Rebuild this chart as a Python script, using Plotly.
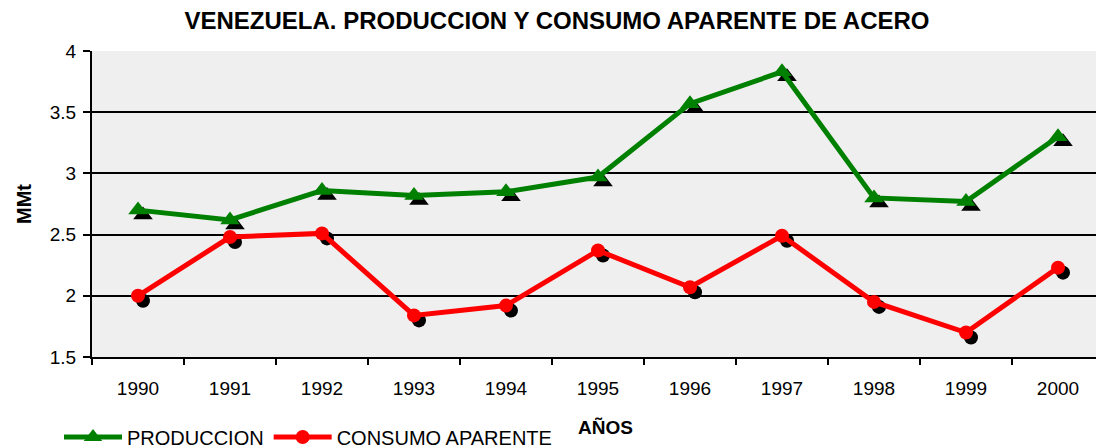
import plotly.graph_objects as go

YEARS = ["1990", "1991", "1992", "1993", "1994", "1995", "1996", "1997", "1998", "1999", "2000"]
PRODUCCION = [2.70, 2.62, 2.86, 2.82, 2.85, 2.97, 3.57, 3.83, 2.80, 2.77, 3.30]
CONSUMO = [2.00, 2.48, 2.51, 1.84, 1.92, 2.37, 2.07, 2.49, 1.95, 1.70, 2.23]

Y_RANGE = [1.5, 4.0]
Y_TICKS = [1.5, 2, 2.5, 3, 3.5, 4]

COLOR_PROD = "#008000"
COLOR_CONS = "#ff0000"
COLOR_BG = "#efefef"
FONT = "Liberation Sans, Arial, sans-serif"

# la pagina html tiene 8px de margen en el body
PAGE = 8
W, H = 1104 - PAGE, 448 - PAGE
M = dict(l=92 - PAGE, r=0, t=51 - PAGE, b=91)
PLOT_W = W - M["l"] - M["r"]
PLOT_H = H - M["t"] - M["b"]

# desplazamiento de la sombra (px)
SHADOW_DX, SHADOW_DY = 5, 5
n = len(YEARS)
x_unit = PLOT_W / n
y_unit = PLOT_H / (Y_RANGE[1] - Y_RANGE[0])
x_shift = SHADOW_DX / x_unit
y_shift = SHADOW_DY / y_unit

fig = go.Figure()

# sombras (subplot xy, dibujado primero)
for vals, sym, size in [(PRODUCCION, "triangle-up", 17), (CONSUMO, "circle", 14)]:
    fig.add_trace(go.Scatter(
        x=YEARS, y=vals, mode="markers",
        marker=dict(symbol=sym, size=size, color="black"),
        showlegend=False, hoverinfo="skip", xaxis="x", yaxis="y"
    ))

# series principales (subplot x2y2)
fig.add_trace(go.Scatter(
    x=YEARS, y=PRODUCCION, mode="lines+markers", name="PRODUCCION",
    line=dict(color=COLOR_PROD, width=5),
    marker=dict(symbol="triangle-up", size=17, color=COLOR_PROD),
    xaxis="x2", yaxis="y2"
))
fig.add_trace(go.Scatter(
    x=YEARS, y=CONSUMO, mode="lines+markers", name="CONSUMO APARENTE",
    line=dict(color=COLOR_CONS, width=5),
    marker=dict(symbol="circle", size=14, color=COLOR_CONS),
    xaxis="x2", yaxis="y2"
))

# fondo gris del area de trazado, debajo de las sombras
fig.add_shape(
    type="rect", xref="x domain", yref="y domain", x0=0, x1=1, y0=0, y1=1,
    fillcolor=COLOR_BG, line_width=0, layer="below"
)

# titulo del eje x
fig.add_annotation(
    text="<b>AÑOS</b>", xref="paper", yref="paper",
    x=(605 - 92) / PLOT_W, y=-(427 - 357) / PLOT_H,
    xanchor="center", yanchor="middle", showarrow=False,
    font=dict(size=19, family=FONT, color="black")
)

fig.update_layout(
    width=W, height=H,
    margin=M,
    paper_bgcolor="white", plot_bgcolor="rgba(0,0,0,0)",
    font=dict(family=FONT, color="black", size=19),
    title=dict(
        text="<b>VENEZUELA. PRODUCCION Y CONSUMO APARENTE DE ACERO</b>",
        x=(557 - PAGE) / W, xanchor="center", y=1 - (21 - PAGE) / H, yanchor="middle",
        font=dict(size=24, family=FONT, color="black")
    ),
    xaxis=dict(
        visible=False, type="category", domain=[0, 1], anchor="y",
        range=[-0.5 - x_shift, n - 0.5 - x_shift]
    ),
    yaxis=dict(
        visible=False, domain=[0, 1], anchor="x",
        range=[Y_RANGE[0] + y_shift, Y_RANGE[1] + y_shift]
    ),
    xaxis2=dict(
        type="category", domain=[0, 1], anchor="y2", automargin=False,
        range=[-0.5, n - 0.5],
        showgrid=False, zeroline=False,
        showline=True, linecolor="black", linewidth=2,
        ticks="outside", tickson="boundaries", ticklen=6, tickwidth=2, tickcolor="black",
        tickfont=dict(size=19), ticklabelstandoff=13
    ),
    yaxis2=dict(
        domain=[0, 1], anchor="x2", automargin=False,
        range=Y_RANGE, tickvals=Y_TICKS,
        showgrid=True, gridcolor="black", gridwidth=2, zeroline=False,
        showline=True, linecolor="black", linewidth=2,
        ticks="outside", ticklen=7, tickwidth=2, tickcolor="black",
        tickfont=dict(size=19), ticklabelstandoff=3,
        title=dict(text="<b>MMt</b>", font=dict(size=20), standoff=13)
    ),
    legend=dict(
        orientation="h", xref="container", yref="container",
        x=(59 - PAGE) / W, xanchor="left", y=(448 - 437) / H, yanchor="middle",
        font=dict(size=20), itemwidth=58, bgcolor="rgba(0,0,0,0)",
        tracegroupgap=0
    ),
    showlegend=True,
)

fig.write_html("out.html")
